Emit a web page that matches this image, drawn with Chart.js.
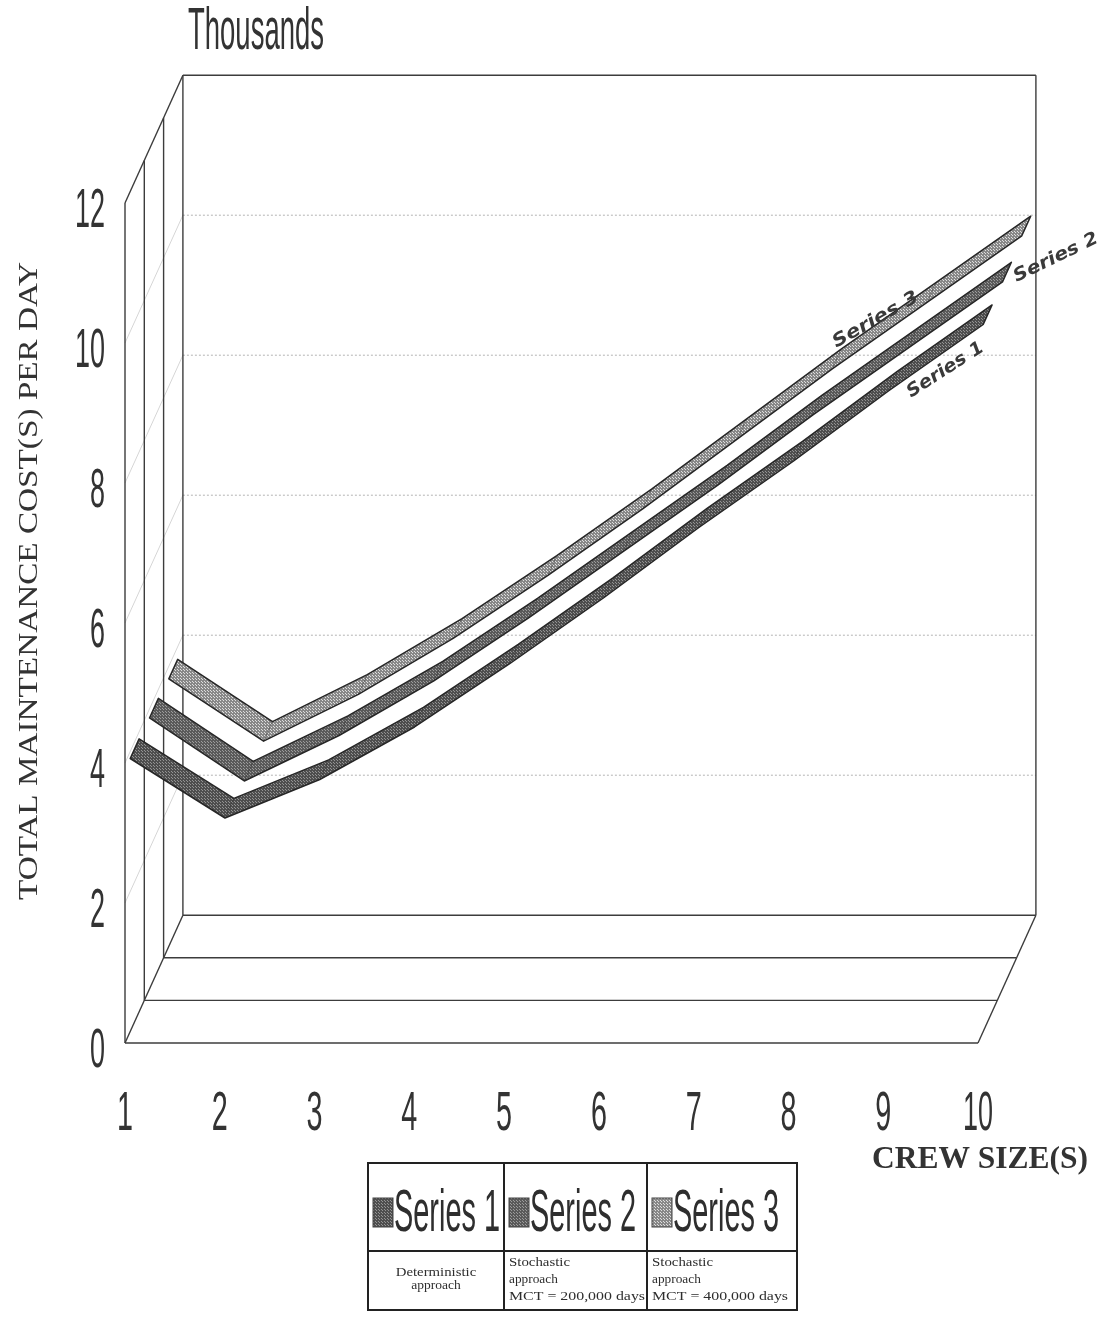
<!DOCTYPE html>
<html>
<head>
<meta charset="utf-8">
<script src="https://cdn.jsdelivr.net/npm/chart.js@4.4.1/dist/chart.umd.min.js"></script>
<style>
  body { margin: 0; background: #fff; }
  #wrap { width: 1106px; height: 1320px; position: relative; }
  canvas { display: block; }
</style>
</head>
<body>
<div id="wrap"><canvas id="costChart" width="1106" height="1320"></canvas></div>
<script>
// crew sizes along the x axis
const CREW_SIZE = ['1', '2', '3', '4', '5', '6', '7', '8', '9', '10'];
// total maintenance cost per day, in thousands
const SERIES_1 = [3.90, 3.05, 3.60, 4.35, 5.25, 6.20, 7.20, 8.15, 9.15, 10.10];
const SERIES_2 = [3.87, 2.97, 3.62, 4.40, 5.30, 6.25, 7.20, 8.20, 9.15, 10.10];
const SERIES_3 = [3.82, 2.93, 3.60, 4.40, 5.30, 6.25, 7.25, 8.25, 9.20, 10.15];
const Y_TICKS = [0, 2, 4, 6, 8, 10, 12];
const SERIES_NAMES = ['Series 1', 'Series 2', 'Series 3'];
const SERIES_NOTES = [
    ['Deterministic', 'approach'],
    ['Stochastic', 'approach', 'MCT = 200,000 days'],
    ['Stochastic', 'approach', 'MCT = 400,000 days']
];

// one depth row per series, in pixels
const DEPTH_X = 19.3;
const DEPTH_Y = -42.6;
const ROWS = 3;

function halftone(base, dot) {
    const c = document.createElement('canvas');
    c.width = 3; c.height = 3;
    const g = c.getContext('2d');
    g.fillStyle = base;
    g.fillRect(0, 0, 3, 3);
    g.fillStyle = dot;
    g.fillRect(0, 0, 1, 1);
    g.fillRect(1, 1, 1, 1);
    return c;
}

const fills = [
    halftone('#4e4e4e', '#939393'),
    halftone('#5a5a5a', '#9c9c9c'),
    halftone('#888888', '#dedede')
];

function fitText(ctx, text, x, y, font, width, align) {
    ctx.save();
    ctx.font = font;
    const w = ctx.measureText(text).width;
    ctx.translate(x, y);
    ctx.scale(width / w, 1);
    ctx.textAlign = align || 'left';
    ctx.fillText(text, 0, 0);
    ctx.restore();
}

function line(ctx, a, b) {
    ctx.beginPath();
    ctx.moveTo(a[0], a[1]);
    ctx.lineTo(b[0], b[1]);
    ctx.stroke();
}

const boxPlugin = {
    id: 'box3d',
    beforeDatasetsDraw(chart) {
        const ctx = chart.ctx;
        const xs = chart.scales.x, ys = chart.scales.y;
        const x0 = xs.getPixelForValue(0), x1 = xs.getPixelForValue(CREW_SIZE.length - 1);
        const y0 = ys.getPixelForValue(0), yTop = ys.getPixelForValue(12);
        const d = (p, k) => [p[0] + k * DEPTH_X, p[1] + k * DEPTH_Y];

        ctx.save();
        // faint gridlines on the back and side walls
        ctx.strokeStyle = '#b4b4b4';
        ctx.lineWidth = 1;
        ctx.setLineDash([2, 2]);
        Y_TICKS.slice(1, -1).forEach(t => {
            const y = ys.getPixelForValue(t);
            line(ctx, d([x0, y], ROWS), d([x1, y], ROWS));
        });
        ctx.strokeStyle = '#d6d6d6';
        ctx.setLineDash([]);
        Y_TICKS.slice(1, -1).forEach(t => {
            const y = ys.getPixelForValue(t);
            line(ctx, [x0, y], d([x0, y], ROWS));
        });

        // walls and floor
        ctx.strokeStyle = '#3c3c3c';
        ctx.lineWidth = 1.4;
        for (let k = 0; k <= ROWS; k++) {
            line(ctx, d([x0, y0], k), d([x1, y0], k));
            line(ctx, d([x0, y0], k), d([x0, yTop], k));
        }
        line(ctx, [x0, y0], d([x0, y0], ROWS));
        line(ctx, [x1, y0], d([x1, y0], ROWS));
        line(ctx, [x0, yTop], d([x0, yTop], ROWS));
        line(ctx, d([x0, yTop], ROWS), d([x1, yTop], ROWS));
        line(ctx, d([x1, y0], ROWS), d([x1, yTop], ROWS));
        ctx.restore();
    },
    afterDatasetsDraw(chart) {
        const ctx = chart.ctx;
        const xs = chart.scales.x, ys = chart.scales.y;

        // ribbons, back row first
        for (let s = chart.data.datasets.length - 1; s >= 0; s--) {
            const pts = chart.getDatasetMeta(s).data.map(p => [p.x, p.y]);
            const f = s + 0.27, b = s + 0.73;
            const fr = pts.map(p => [p[0] + f * DEPTH_X, p[1] + f * DEPTH_Y]);
            const bk = pts.map(p => [p[0] + b * DEPTH_X, p[1] + b * DEPTH_Y]);
            ctx.save();
            ctx.lineJoin = 'round';
            ctx.fillStyle = ctx.createPattern(fills[s], 'repeat');
            ctx.beginPath();
            fr.forEach((p, i) => i ? ctx.lineTo(p[0], p[1]) : ctx.moveTo(p[0], p[1]));
            for (let i = bk.length - 1; i >= 0; i--) ctx.lineTo(bk[i][0], bk[i][1]);
            ctx.closePath();
            ctx.fill();
            ctx.strokeStyle = '#262626';
            ctx.lineWidth = 1.5;
            ctx.stroke();
            // fold where the ribbon changes direction
            ctx.strokeStyle = 'rgba(40,40,40,0.45)';
            ctx.lineWidth = 0.8;
            for (let i = 1; i < pts.length - 1; i++) line(ctx, fr[i], bk[i]);
            ctx.restore();
        }

        ctx.save();
        ctx.fillStyle = '#333';
        ctx.textBaseline = 'alphabetic';
        // value axis
        Y_TICKS.forEach(t => {
            const y = ys.getPixelForValue(t);
            const lbl = String(t);
            fitText(ctx, lbl, 105, y + 24, '56px "Liberation Sans"', 15 * lbl.length, 'right');
        });
        // category axis
        CREW_SIZE.forEach((c, i) => {
            const x = xs.getPixelForValue(i);
            fitText(ctx, c, x, 1130, '56px "Liberation Sans"', c.length > 1 ? 30 : 16, 'center');
        });
        fitText(ctx, 'Thousands', 188, 49, '60px "Liberation Sans"', 136, 'left');
        fitText(ctx, 'CREW SIZE(S)', 872, 1168, 'bold 31px "Liberation Serif"', 216, 'left');

        ctx.save();
        ctx.translate(37, 581);
        ctx.rotate(-Math.PI / 2);
        fitText(ctx, 'TOTAL MAINTENANCE COST(S) PER DAY', 0, 0, '27px "Liberation Serif"', 638, 'center');
        ctx.restore();

        // handwritten notes at the line ends
        ctx.fillStyle = '#3a3a3a';
        const notes = [
            [SERIES_NAMES[2], 878, 324, -0.52, 96],
            [SERIES_NAMES[1], 1058, 262, -0.45, 92],
            [SERIES_NAMES[0], 948, 374, -0.57, 88]
        ];
        notes.forEach(n => {
            ctx.save();
            ctx.translate(n[1], n[2]);
            ctx.rotate(n[3]);
            fitText(ctx, n[0], 0, 0, 'italic bold 18px "DejaVu Sans"', n[4], 'center');
            ctx.restore();
        });

        // data table below the axis
        const L = 368, T = 1163, R = 797, B = 1310, mid = 1251;
        const cols = [L, 504, 647, R];
        ctx.strokeStyle = '#222';
        ctx.lineWidth = 2;
        ctx.strokeRect(L, T, R - L, B - T);
        line(ctx, [L, mid], [R, mid]);
        line(ctx, [cols[1], T], [cols[1], B]);
        line(ctx, [cols[2], T], [cols[2], B]);
        ctx.fillStyle = '#2e2e2e';
        SERIES_NAMES.forEach((name, i) => {
            const cx = cols[i];
            ctx.save();
            ctx.fillStyle = ctx.createPattern(fills[i], 'repeat');
            ctx.fillRect(cx + 5, 1198, 20, 29);
            ctx.strokeStyle = '#444';
            ctx.lineWidth = 1;
            ctx.strokeRect(cx + 5, 1198, 20, 29);
            ctx.restore();
            fitText(ctx, name, cx + 26, 1231, '60px "Liberation Sans"', 106, 'left');
            const note = SERIES_NOTES[i];
            note.forEach((t, k) => {
                if (i === 0) {
                    fitText(ctx, t, 436, 1276 + k * 13, '12px "Liberation Serif"', t.length * 6.2, 'center');
                } else {
                    const w = t.length > 12 ? 136 : t.length * 6.1;
                    fitText(ctx, t, cx + 5, 1266 + k * 17, '12px "Liberation Serif"', w, 'left');
                }
            });
        });
        ctx.restore();
    }
};

const seriesData = [SERIES_1, SERIES_2, SERIES_3];

new Chart(document.getElementById('costChart').getContext('2d'), {
    type: 'line',
    data: {
        labels: CREW_SIZE,
        datasets: seriesData.map((vals, i) => ({
            label: SERIES_NAMES[i],
            data: vals,
            borderColor: 'transparent',
            borderWidth: 0,
            pointRadius: 0,
            clip: false
        }))
    },
    options: {
        responsive: false,
        animation: false,
        layout: { padding: { left: 125, right: 128, top: 203, bottom: 277 } },
        plugins: {
            legend: { display: false },
            tooltip: { enabled: false }
        },
        scales: {
            x: { type: 'category', offset: false, display: false },
            y: { min: 0, max: 12, display: false }
        }
    },
    plugins: [boxPlugin]
});
</script>
</body>
</html>
